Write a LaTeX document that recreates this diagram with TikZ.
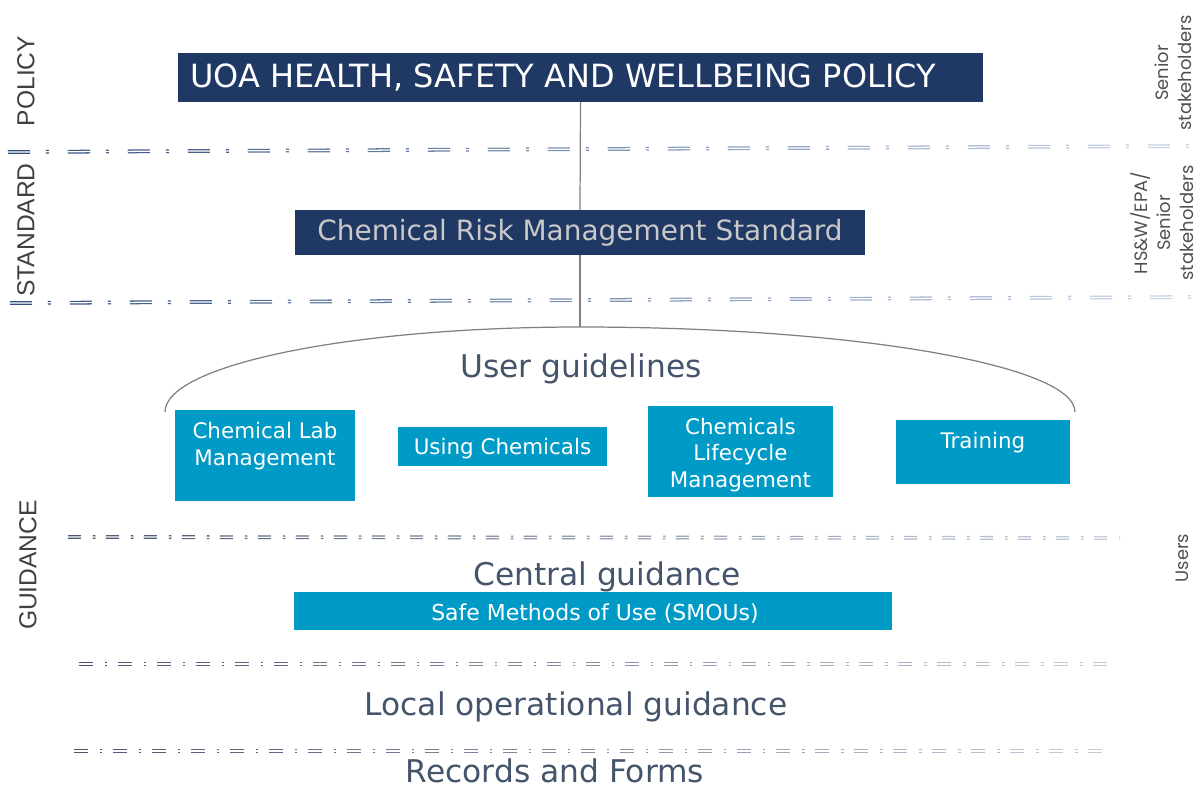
\documentclass[tikz,border=0pt]{standalone}
\usepackage{fontspec}
\setmainfont{DejaVu Sans}
\newfontfamily\lblfont{Liberation Sans}
\newfontfamily\rfont{Poppins}
\definecolor{navy}{HTML}{203864}
\definecolor{boxcyan}{HTML}{009AC7}
\definecolor{slate}{HTML}{44546A}
\definecolor{stdtext}{HTML}{C9C9C9}
\definecolor{lblgray}{HTML}{404040}
\definecolor{rgray}{HTML}{505050}
\definecolor{ldark}{HTML}{34507F}
\definecolor{llight}{HTML}{C6D2E6}
\definecolor{gdark}{HTML}{4A5670}
\definecolor{glight}{HTML}{C4CCDA}
\newcommand{\fadeline}[8]{%
  \pgfmathsetmacro{\fn}{int(ceil((#3-#1)/#5))}%
  \foreach \i in {1,...,\fn}{%
    \pgfmathsetmacro{\xa}{#1+(\i-1)*#5}%
    \pgfmathsetmacro{\xb}{min(#1+\i*#5,#3)}%
    \pgfmathsetmacro{\ya}{#2+(#4-#2)*(\xa-#1)/(#3-#1)}%
    \pgfmathsetmacro{\yb}{#2+(#4-#2)*(\xb-#1)/(#3-#1)}%
    \pgfmathsetmacro{\pc}{100*(1-(\i-1)/(\fn-1))}%
    \draw[dblline, dash pattern=#6, draw=#7!\pc!#8] (\xa,\ya) -- (\xb,\yb);
  }%
}
\begin{document}
\begin{tikzpicture}[x=0.02cm, y=-0.02cm,
  navybox/.style={fill=navy, draw=none, inner sep=0, outer sep=0},
  cyanbox/.style={fill=boxcyan, draw=none, inner sep=0, outer sep=0},
  boxtext/.style={text=white, font=\fontsize{12.2}{15}\selectfont, align=center, inner sep=0},
  heading/.style={text=slate, font=\fontsize{17.8}{20}\selectfont, inner sep=0, anchor=base},
  sidelbl/.style={text=lblgray, font=\lblfont\fontsize{14}{16}\selectfont, rotate=90, inner sep=0},
  rlbl/.style={text=rgray, font=\rfont\fontsize{10.2}{13}\selectfont, rotate=90, align=center, inner sep=0},
  conn/.style={draw=gray, line width=0.7pt},
  dblline/.style={line width=0.72pt, double=white, double distance=0.72pt}
]
\useasboundingbox (0,0) rectangle (1198,789);

% layer separators
\fadeline{8}{152}{1194}{146}{60}{on 0.44cm off 0.32cm on 0.06cm off 0.38cm}{ldark}{llight}
\fadeline{10}{303}{1194}{297}{60}{on 0.44cm off 0.32cm on 0.06cm off 0.38cm}{ldark}{llight}
\fadeline{68}{537}{1120}{538}{38}{on 0.26cm off 0.24cm on 0.05cm off 0.21cm}{gdark}{glight}
\fadeline{79}{664}{1110}{664}{39}{on 0.28cm off 0.24cm on 0.05cm off 0.21cm}{gdark}{glight}
\fadeline{74}{751}{1107}{751}{39}{on 0.28cm off 0.24cm on 0.05cm off 0.21cm}{gdark}{glight}

% side labels
\node[sidelbl] (lpolicy) at (26,81) {POLICY};
\node[sidelbl] (lstandard) at (26,230) {STANDARD};
\node[sidelbl] (lguidance) at (28,565) {GUIDANCE};
\node[rlbl] (rsenior) at (1173,73) {Senior\\stakeholders};
\node[rlbl] (rhsw) at (1162,223) {HS\&W/EPA/\\Senior\\stakeholders};
\node[rlbl] (rusers) at (1182,558) {Users};

% policy and standard
\node[navybox, minimum width=16.1cm, minimum height=0.98cm] (policy) at (580.5,77.5) {};
\node[anchor=west, inner sep=0, text=white, font=\fontsize{18.2}{20}\selectfont] (policyt) at (190,77.5) {UOA HEALTH, SAFETY AND WELLBEING POLICY};
\node[navybox, minimum width=11.4cm, minimum height=0.9cm, text=stdtext, font=\fontsize{15.9}{18}\selectfont] (standard) at (580,232.5) {Chemical Risk Management Standard};

\coordinate (apex) at (580,327);
\draw[conn] (policy.south) -- (standard.north);
\draw[conn] (standard.south) -- (apex);

% arc over user guidelines
\coordinate (arcL) at (165,412);
\coordinate (arcR) at (1075,412);
\draw[conn] (arcL) .. controls (165,365) and (351,327) .. (apex)
                   .. controls (853,327) and (1075,365) .. (arcR);

\node[heading] (ug) at (581,377) {User guidelines};

% guideline boxes
\node[cyanbox, minimum width=3.6cm, minimum height=1.82cm] (b1) at (265,455.5) {};
\node[boxtext] (b1t) at (265,446) {Chemical Lab\\Management};
\node[cyanbox, minimum width=4.18cm, minimum height=0.78cm] (b2) at (502.5,446.5) {};
\node[boxtext] (b2t) at (502.5,449) {Using Chemicals};
\node[cyanbox, minimum width=3.7cm, minimum height=1.82cm] (b3) at (740.5,451.5) {};
\node[boxtext] (b3t) at (740.5,455) {Chemicals\\Lifecycle\\Management};
\node[cyanbox, minimum width=3.48cm, minimum height=1.28cm] (b4) at (983,452) {};
\node[boxtext] (b4t) at (983,443) {Training};

% central guidance
\node[heading] (cg) at (607,585) {Central guidance};
\node[cyanbox, minimum width=11.96cm, minimum height=0.76cm] (smou) at (593,611) {};
\node[boxtext, font=\fontsize{12.5}{15}\selectfont] (smout) at (595,613.5) {Safe Methods of Use (SMOUs)};

\node[heading] (log) at (576,715) {Local operational guidance};
\node[heading] (rf) at (555,782) {Records and Forms};
\end{tikzpicture}
\end{document}
